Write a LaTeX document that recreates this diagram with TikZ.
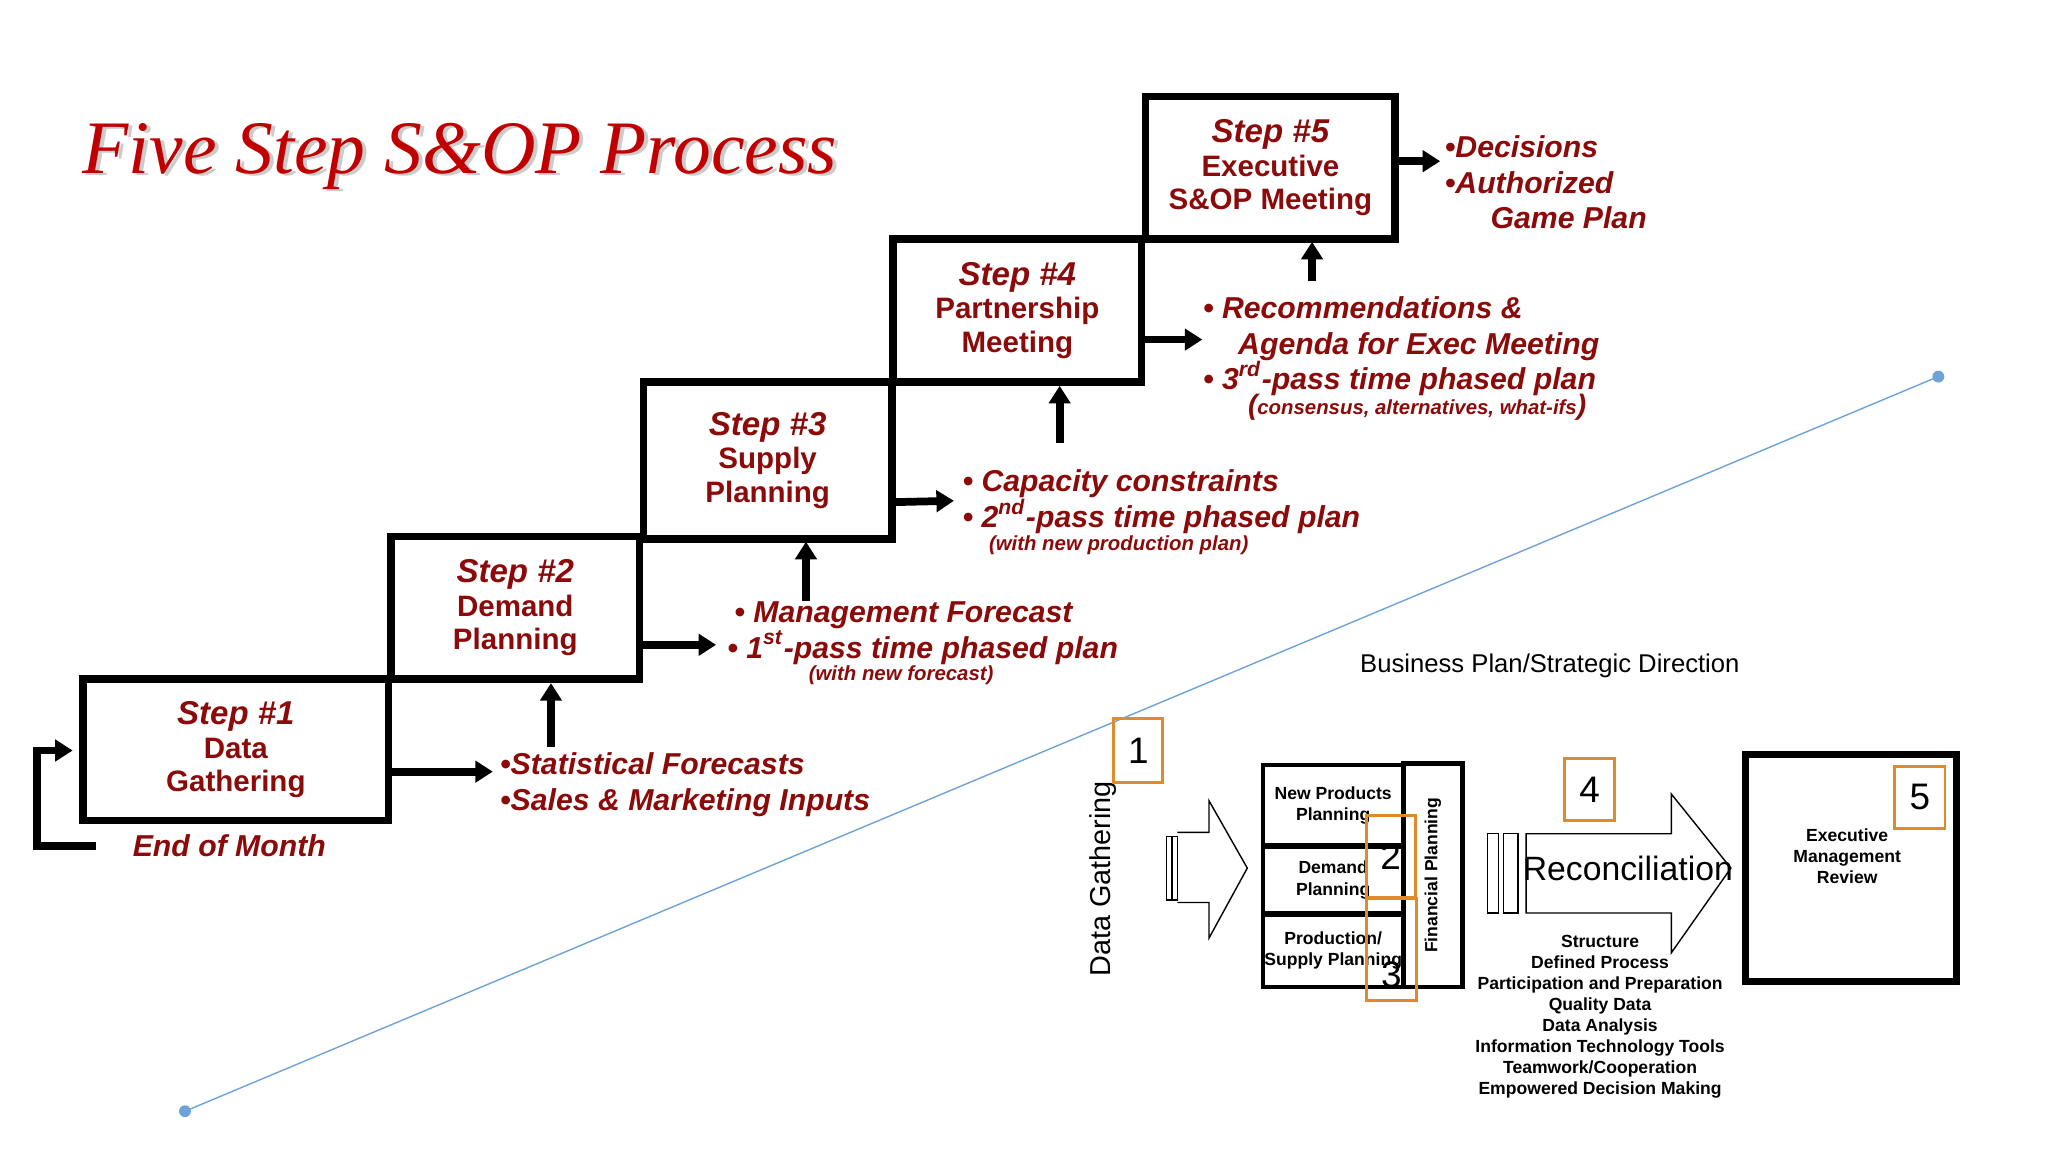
\documentclass[tikz,border=0pt]{standalone}
\usepackage{fontspec}
\setmainfont{Liberation Sans}
\newfontfamily\titlefont{Liberation Serif}
\usetikzlibrary{arrows.meta,positioning}
\definecolor{stepred}{HTML}{8B0A0A}
\definecolor{titlered}{HTML}{C00000}
\definecolor{boxorange}{HTML}{E08A2C}
\definecolor{lineblue}{HTML}{6FA3D8}
\def\px{0.013213cm}
\tikzset{
	stepbox/.style={draw,line width=2.2pt,align=center,text=stepred,font=\fontsize{8.4}{9.6}\selectfont\bfseries,inner sep=0pt},
	note/.style={text=stepred,font=\fontsize{8.6}{10.2}\selectfont\bfseries\itshape,align=left,inner sep=0pt,anchor=west},
	small/.style={text=stepred,font=\fontsize{5.8}{6.5}\selectfont\bfseries\itshape,inner sep=0pt},
	feed/.style={line width=2.2pt,-{Triangle[length=5pt,width=6pt]}},
	num/.style={draw=boxorange,thick,font=\fontsize{10.5}{12}\selectfont,inner sep=0pt},
	tiny/.style={font=\fontsize{5}{6}\selectfont\bfseries,align=center,inner sep=0pt},
	cell/.style={draw,line width=1.3pt,inner sep=0pt}
}
\begin{document}
\begin{tikzpicture}[x=\px,y=-\px]
	\useasboundingbox (0,0) rectangle (1550,872);

	%% Title
	\node [text=gray!40,font=\titlefont\fontsize{21.5}{26}\selectfont\itshape,anchor=west] at (56,120) {Five Step S\&OP Process};
	\node (title) [text=titlered,font=\titlefont\fontsize{21.5}{26}\selectfont\itshape,anchor=west] at (53,118) {Five Step S\&OP Process};

	%% Diagonal line
	\coordinate (lo) at (140,841);
	\coordinate (hi) at (1467,285);
	\draw [lineblue,thin] (lo) -- (hi);
	\fill [lineblue] (lo) circle (4.5) (hi) circle (4.5);

	%% Steps
	\node (s1) [stepbox,minimum width=231*\px,minimum height=107*\px] at (178.5,567.5) {{\fontsize{9.4}{10.5}\selectfont\itshape Step \#1}\\Data\\Gathering};
	\node (s2) [stepbox,minimum width=188*\px,minimum height=108*\px] at (390,460) {{\fontsize{9.4}{10.5}\selectfont\itshape Step \#2}\\Demand\\Planning};
	\node (s3) [stepbox,minimum width=188*\px,minimum height=119*\px] at (581,348.5) {{\fontsize{9.4}{10.5}\selectfont\itshape Step \#3}\\Supply\\Planning};
	\node (s4) [stepbox,minimum width=188*\px,minimum height=108*\px] at (770,235) {{\fontsize{9.4}{10.5}\selectfont\itshape Step \#4}\\Partnership\\Meeting};
	\node (s5) [stepbox,minimum width=189*\px,minimum height=108*\px] at (961.5,127) {{\fontsize{9.4}{10.5}\selectfont\itshape Step \#5}\\Executive\\S\&OP Meeting};

	%% Outputs
	\node (o1) [note] at (378,594) {\textbullet Statistical Forecasts\\\textbullet Sales \& Marketing Inputs};
	\node (eom) [note] at (100,640) {End of Month};
	\node (o2) [note] at (550,479) {\hspace*{2pt}\textbullet\ Management Forecast\\\textbullet\ 1\textsuperscript{st}-pass time phased plan};
	\node (o2s) [small] at (682,511) {(with new forecast)};
	\node (o3) [note] at (728,380) {\textbullet\ Capacity constraints\\\textbullet\ 2\textsuperscript{nd}-pass time phased plan};
	\node (o3s) [small,anchor=west] at (748,413) {(with new production plan)};
	\node (o4) [note] at (910,262) {\textbullet\ Recommendations \&\\\hspace*{10pt}Agenda for Exec Meeting\\\textbullet\ 3\textsuperscript{rd}-pass time phased plan};
	\node (o4s) [small,anchor=west] at (944,308) {{\fontsize{8}{9}\selectfont(}consensus, alternatives, what-ifs{\fontsize{8}{9}\selectfont)}};
	\node (o5) [note] at (1093,138) {\textbullet Decisions\\\textbullet Authorized\\\hspace*{13pt}Game Plan};

	%% Connectors
	\draw [feed] (s1.east |- 0,584) -- (373,584);
	\draw [feed] (417,565) -- (417,517);
	\draw [feed] (73,640) -- (28,640) -- (28,568) -- (55,568);
	\draw [feed] (s2.east |- 0,488) -- (542,488);
	\draw [feed] (610,455) -- (610,410);
	\draw [feed] (s3.east |- 0,380) -- (722,379);
	\draw [feed] (802,335) -- (802,292);
	\draw [feed] (s4.east |- 0,257) -- (910,257);
	\draw [feed] (993,213) -- (993,183);
	\draw [feed] (s5.east |- 0,122) -- (1090,122);

	%% Lower diagram
	\node (bp) [font=\fontsize{7.3}{9}\selectfont] at (1173,504) {Business Plan/Strategic Direction};
	\node (dg) [rotate=90,font=\fontsize{8.2}{10}\selectfont] at (835,665) {Data Gathering};
	\draw [thin] (883,633) rectangle (887,681) (887,633) rectangle (891,681);
	\draw [thin] (891,630) -- (915,630) -- (915,606) -- (944,657) -- (915,710) -- (915,683) -- (891,683);
	\node (np) [cell,tiny,minimum width=106*\px,minimum height=61*\px] at (1009,609.5) {New Products\\Planning};
	\node (dp) [cell,tiny,minimum width=106*\px,minimum height=51*\px] at (1009,666) {Demand\\Planning};
	\node (sp) [cell,tiny,minimum width=106*\px,minimum height=55*\px] at (1009,719.5) {Production/\\Supply Planning};
	\node (fp) [cell,minimum width=45*\px,minimum height=169*\px] at (1084.5,662.5) {};
	\node [rotate=90,tiny] at (fp.center) {Financial Planning};
	\draw [thin] (1126,631) rectangle (1134,691) (1138,631) rectangle (1149,691);
	\draw [thin] (1155,631) -- (1265,631) -- (1265,601) -- (1310,657) -- (1265,721) -- (1265,691) -- (1155,691) -- cycle;
	\node (rc) [font=\fontsize{9.6}{11}\selectfont] at (1232,657) {Reconciliation};
	\node (keys) [tiny,anchor=north] at (1211,707) {Structure\\Defined Process\\Participation and Preparation\\Quality Data\\Data Analysis\\Information Technology Tools\\Teamwork/Cooperation\\Empowered Decision Making};
	\node (emr) [draw,line width=2pt,minimum width=160*\px,minimum height=172*\px] at (1401,657) {};
	\node [tiny] at (1398,648) {Executive\\Management\\Review};
	\node (n1) [num,minimum width=37*\px,minimum height=48*\px] at (861.5,568) {1};
	\node (n2) [num,minimum width=37*\px,minimum height=62*\px] at (1052.5,648) {2};
	\node (n3) [num,minimum width=38*\px,minimum height=77*\px] at (1053,718.5) {};
	\node at (1053,738) [font=\fontsize{10.5}{12}\selectfont] {3};
	\node (n4) [num,minimum width=38*\px,minimum height=47*\px] at (1203,597.5) {4};
	\node (n5) [num,minimum width=38*\px,minimum height=47*\px] at (1453,603.5) {5};
\end{tikzpicture}
\end{document}
